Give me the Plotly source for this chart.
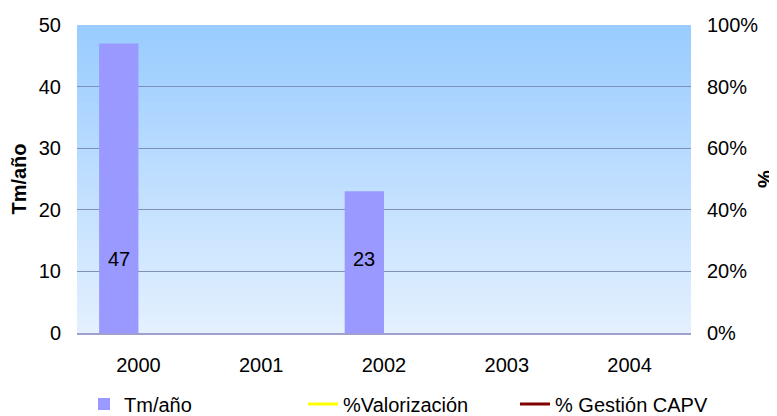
import plotly.graph_objects as go

years = ["2000", "2001", "2002", "2003", "2004"]
tm_ano = [47, None, 23, None, None]
tm_labels = ["47", "", "23", "", ""]
pct_valorizacion = [None, None, None, None, None]
pct_gestion = [None, None, None, None, None]
y_ticks = [0, 10, 20, 30, 40, 50]
y2_ticks = [0, 0.2, 0.4, 0.6, 0.8, 1.0]
y2_ticktext = ["0%", "20%", "40%", "60%", "80%", "100%"]

FONT = "Liberation Sans, Arial, sans-serif"
FS = 20
W, H = 777, 416  # page body adds an 8px offset

fig = go.Figure()
fig.add_trace(go.Bar(
    x=years, y=tm_ano, name="Tm/año", legend="legend",
    marker=dict(color="#9999FF", line=dict(width=0)),
    width=0.32, offset=-0.32,
))
fig.add_trace(go.Scatter(
    x=years, y=pct_valorizacion, name="%Valorización", yaxis="y2", legend="legend2",
    mode="lines", line=dict(color="#FFFF00", width=3),
))
fig.add_trace(go.Scatter(
    x=years, y=pct_gestion, name="% Gestión CAPV", yaxis="y2", legend="legend3",
    mode="lines", line=dict(color="#800000", width=3),
))

# data labels
for i, (v, t) in enumerate(zip(tm_ano, tm_labels)):
    if v is not None and t:
        fig.add_annotation(x=i - 0.16, y=12, xref="x", yref="y", text=t, showarrow=False,
                           font=dict(size=FS, color="#000000", family=FONT))

# gradient background
def lerp(a, b, t):
    return int(round(a + (b - a) * t))
top = (0x99, 0xCC, 0xFF)
bot = (0xE3, 0xF0, 0xFF)
N = 40
shapes = []
for i in range(N):
    t = i / (N - 1)
    c = tuple(lerp(top[k], bot[k], t) for k in range(3))
    y1 = 1 - i / N
    y0 = max(0, 1 - (i + 1) / N - 0.01)
    shapes.append(dict(type="rect", xref="paper", yref="paper", x0=0, x1=1,
                       y1=y1, y0=y0, layer="below",
                       fillcolor="rgb(%d,%d,%d)" % c, line=dict(width=0)))

def leg(xpix):
    return dict(orientation="h", xref="container", yref="container",
                x=xpix / W, y=(H - 396) / H, xanchor="left", yanchor="middle",
                itemwidth=30, font=dict(size=FS, family=FONT),
                bgcolor="rgba(0,0,0,0)")

fig.update_layout(
    width=W, height=H,
    margin=dict(l=69, r=94, t=17, b=91, autoexpand=False),
    paper_bgcolor="white", plot_bgcolor="rgba(0,0,0,0)",
    font=dict(family=FONT, size=FS, color="#000000"),
    shapes=shapes,
    showlegend=True,
    legend=leg(76), legend2=leg(295), legend3=leg(507),
    xaxis=dict(type="category", categoryorder="array", categoryarray=years,
               range=[-0.5, 4.5], showgrid=False, ticks="",
               showline=True, linecolor="#A0A0D0", linewidth=2,
               tickfont=dict(size=FS), ticklabelstandoff=13),
    yaxis=dict(range=[0, 50], tickvals=y_ticks, showgrid=True, gridcolor="#8090B8",
               gridwidth=1, zeroline=False, showline=False, ticks="",
               ticklabelstandoff=15,
               title=dict(text="<b>Tm/año</b>", font=dict(size=FS), standoff=16)),
    yaxis2=dict(range=[0, 1], tickvals=y2_ticks, ticktext=y2_ticktext, overlaying="y",
                side="right", showgrid=False, zeroline=False, showline=False, ticks="",
                ticklabelstandoff=15,
                title=dict(text="<b>%</b>", font=dict(size=FS), standoff=0)),
)

fig.write_html("out.html")
